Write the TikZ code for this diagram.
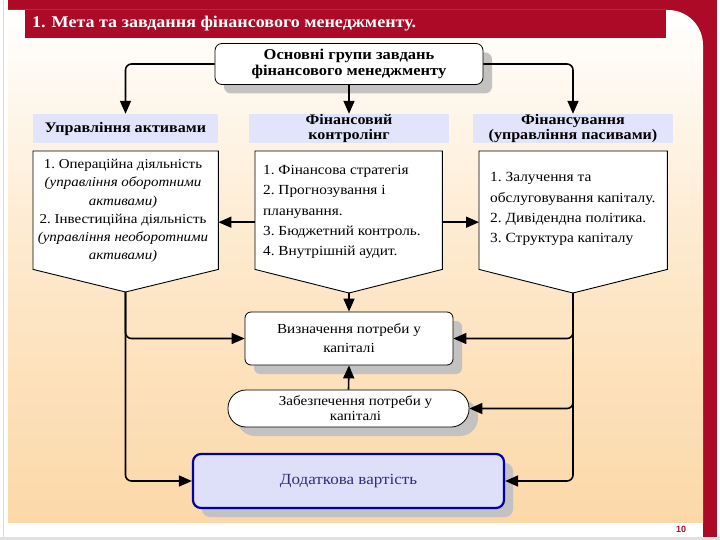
\documentclass[tikz,border=0pt]{standalone}
\usepackage{fontspec}
\setmainfont[FakeStretch=1.1]{Liberation Serif}
\newfontfamily\arialf{Liberation Sans}
\usetikzlibrary{arrows.meta,shadows}
\definecolor{slidered}{RGB}{172,10,38}
\definecolor{hdr}{RGB}{225,228,250}
\definecolor{peach}{RGB}{252,216,168}
\definecolor{peachmid}{RGB}{253,232,202}
\definecolor{dodfill}{RGB}{222,224,250}
\definecolor{dodblue}{RGB}{0,0,170}
\definecolor{doddark}{RGB}{45,45,120}
\definecolor{shadowgrey}{RGB}{196,194,192}
\begin{document}
\begin{tikzpicture}[x=1pt,y=-1pt,
  conn/.style={line width=1.6pt, rounded corners=6pt, -{Triangle[length=13pt,width=11pt]}},
  shad/.style={drop shadow={shadow xshift=9pt,shadow yshift=-9pt,fill=shadowgrey,opacity=1}},
  topbox/.style={draw, line width=0.8pt, fill=white, rounded corners=7pt, minimum width=268pt, minimum height=41pt, align=center, font=\bfseries\fontsize{15}{16}\selectfont, inner sep=0pt},
  hdrbox/.style={fill=hdr, minimum height=29pt, align=center, inner sep=0pt, font=\bfseries\fontsize{14.6}{15}\selectfont},
  pentbox/.style={anchor=north west, inner sep=0pt, minimum height=118pt},
  roundbox/.style={draw, line width=0.8pt, fill=white, align=center, inner sep=0pt},
]
\useasboundingbox (0,0) rectangle (720,540);
% slide frame
\fill[white] (0,0) rectangle (720,540);
\fill[slidered] (8,0) rectangle (717,537);
\shade[top color=white, bottom color=peach, middle color=peachmid]
  (8,10) -- (668,10) arc[start angle=-90, end angle=0, radius=35] -- (703,523) -- (8,523) -- cycle;
\fill[white] (0,523) rectangle (703,537);
\fill[white] (0,0) rectangle (8,537);
\draw[black!15, line width=1pt] (3,0) -- (3,537);
\fill[black!12] (0,537) rectangle (720,540);
\fill[slidered] (25,10) rectangle (666,38);
\node[anchor=west, text=white, font=\bfseries\fontsize{16.4}{17}\selectfont, inner sep=0pt] (title) at (32,24) {1. Мета та завдання фінансового менеджменту.};
\node[text=slidered, font=\arialf\bfseries\fontsize{9}{9}\selectfont, inner sep=0pt] (pg) at (681,529) {10};

% top node
\node[topbox, shad] (top) at (349,64) {Основні групи завдань\\фінансового менеджменту};

% headers
\node[hdrbox, minimum width=185pt] (hL) at (125.5,128.5) {Управління активами};
\node[hdrbox, minimum width=200pt] (hM) at (349,128.5) {Фінансовий\\контролінг};
\node[hdrbox, minimum width=200pt] (hR) at (573,128.5) {Фінансування\\(управління пасивами)};

\draw[conn] (top.west) -| (hL.north);
\draw[conn] (top.south) -- (hM.north);
\draw[conn] (top.east) -| (hR.north);

% pentagon boxes
\node[pentbox, minimum width=185pt] (bL) at (33,151) {};
\node[pentbox, minimum width=187pt] (bM) at (255,151) {};
\node[pentbox, minimum width=188pt] (bR) at (479,151) {};
\coordinate (Lp) at (125.5,292);
\coordinate (Mp) at (349,293);
\coordinate (Rp) at (573,293);
\draw[line width=0.9pt, fill=white] (bL.north west) -- (bL.north east) -- (bL.south east) -- (Lp) -- (bL.south west) -- cycle;
\draw[line width=0.9pt, fill=white] (bM.north west) -- (bM.north east) -- (bM.south east) -- (Mp) -- (bM.south west) -- cycle;
\draw[line width=0.9pt, fill=white] (bR.north west) -- (bR.north east) -- (bR.south east) -- (Rp) -- (bR.south west) -- cycle;

\node[align=center, font=\fontsize{13.6}{18.2}\selectfont, inner sep=0pt] (tL) at (123,211)
  {1.~Операційна діяльність\\
   \textit{(управління оборотними}\\
   \textit{активами)}\\
   2.~Інвестиційна діяльність\\
   \textit{(управління необоротними}\\
   \textit{активами)}};
\node[align=left, anchor=west, font=\fontsize{13.9}{20.2}\selectfont, inner sep=0pt] (tM) at (263,212)
  {1.~Фінансова стратегія\\
   2.~Прогнозування і\\
   планування.\\
   3.~Бюджетний контроль.\\
   4.~Внутрішній аудит.};
\node[align=left, anchor=west, font=\fontsize{14}{20.2}\selectfont, inner sep=0pt] (tR) at (490,209)
  {1.~Залучення та\\
   обслуговування капіталу.\\
   2.~Дивідендна політика.\\
   3.~Структура капіталу};

\draw[conn] ([yshift=-12pt]bM.west) -- ([yshift=-12pt]bM.west -| bL.east);
\draw[conn] ([yshift=-12pt]bM.east) -- ([yshift=-12pt]bM.east -| bR.west);

% lower nodes
\node[roundbox, shad, rounded corners=6pt, minimum width=208pt, minimum height=53pt, font=\fontsize{13.8}{19}\selectfont] (viz) at (349,338.5) {Визначення потреби у\\капіталі};
\node[roundbox, shad, rounded corners=18pt, minimum width=241pt, minimum height=37pt, font=\fontsize{13.7}{15}\selectfont] (zab) at (348.5,408.5) {\hspace*{14pt}Забезпечення потреби у\\\hspace*{14pt}капіталі};
\node[draw=dodblue, line width=2.2pt, fill=dodfill, shad, rounded corners=8pt, minimum width=311pt, minimum height=54pt, text=doddark, font=\fontsize{15.5}{15}\selectfont] (dod) at (348.5,481) {Додаткова вартість};

\draw[conn] (Mp) -- (viz.north);
\draw[conn] (zab.north) -- (viz.south);
\draw[conn] (Lp) |- (viz.west);
\draw[conn] (Lp) |- (dod.west);
\draw[conn] (Rp) |- (viz.east);
\draw[conn] (Rp) |- (zab.east);
\draw[conn] (Rp) |- (dod.east);
\end{tikzpicture}
\end{document}
